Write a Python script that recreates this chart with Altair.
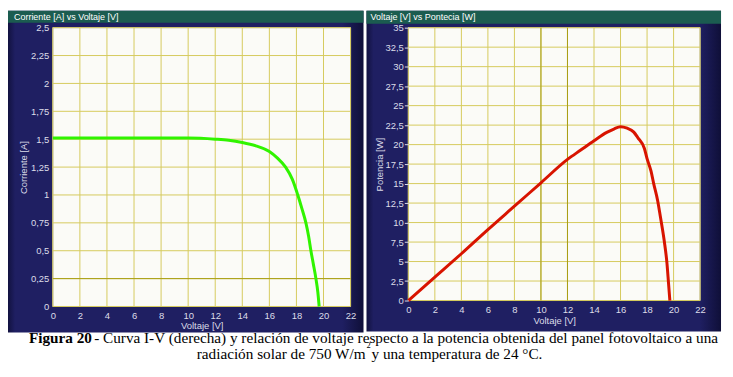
import altair as alt
import pandas as pd

# ---- data ----
iv_v = [0, 2, 4, 6, 8, 10, 12, 13, 14, 15, 16, 16.6, 17.2, 17.7, 18.1, 18.4, 18.7, 18.9, 19.07, 19.25, 19.44, 19.58, 19.68]
iv_i = [1.51, 1.51, 1.51, 1.51, 1.51, 1.51, 1.50, 1.49, 1.47, 1.44, 1.39, 1.33, 1.25, 1.14, 1.00, 0.88, 0.75, 0.63, 0.50, 0.38, 0.25, 0.13, 0.0]

pv_v = [0, 2, 4, 6, 8, 10, 12, 13, 14, 15, 15.5, 16.0, 16.5, 17.0, 17.3, 17.8, 18.0, 18.3, 18.5, 18.8, 19.0, 19.3, 19.5, 19.62, 19.72]
pv_p = [0, 3.0, 6.0, 9.1, 12.1, 15.1, 18.1, 19.3, 20.5, 21.6, 22.0, 22.3, 22.1, 21.6, 20.9, 19.5, 18.2, 16.6, 15.0, 12.8, 10.8, 7.6, 4.8, 2.2, 0.0]

x_ticks = [0, 2, 4, 6, 8, 10, 12, 14, 16, 18, 20, 22]
i_ticks = [0, 0.25, 0.5, 0.75, 1, 1.25, 1.5, 1.75, 2, 2.25, 2.5]
p_ticks = [0, 2.5, 5, 7.5, 10, 12.5, 15, 17.5, 20, 22.5, 25, 27.5, 30, 32.5, 35]
iv_dark_y = [0.25]
pv_dark_x = [10, 12]

title_iv = "Corriente [A] vs Voltaje [V]"
title_pv = "Voltaje [V] vs Pontecia [W]"
x_title = "Voltaje [V]"
y_title_iv = "Corriente [A]"
y_title_pv = "Potencia [W]"

cap_bold = "Figura 20"
cap_line1 = " - Curva I-V (derecha) y relación de voltaje respecto a la potencia obtenida del panel fotovoltaico a una"
cap_line2a = "radiación solar de 750 W/m"
cap_sup = "2"
cap_line2b = " y una temperatura de 24 °C."

# ---- style ----
NAVY_GRAD = alt.LinearGradient(
    gradient="linear", x1=0, x2=1, y1=0, y2=0,
    stops=[alt.GradientStop(color="#121240", offset=0),
           alt.GradientStop(color="#1f1f62", offset=0.02),
           alt.GradientStop(color="#1f1f62", offset=0.94),
           alt.GradientStop(color="#0f0f38", offset=1)],
)
HEADER = "#1b5c50"
GRID = "#d6cb5e"
GRID_DARK = "#a89e14"
LABEL = "#dcdce8"
FONT = "Liberation Sans"
LFS = 9.5

dummy = pd.DataFrame({"a": [0]})
label_expr = "replace('' + datum.value, '.', ',')"


def panel(df, xcol, ycol, color, yticks, ydomain, ytitle, header,
          W, H, fl, fr, fb, hb, hx, dark_x, dark_y, ytick, ypad, xlpad, xtpad):
    xs = alt.Scale(domain=[0, 22], nice=False, zero=False)
    ys = alt.Scale(domain=ydomain, nice=False, zero=False)
    x_axis = alt.Axis(
        values=x_ticks, title=x_title, labelExpr=label_expr, grid=False, domain=False,
        ticks=False, labelFont=FONT, labelFontSize=LFS, labelColor=LABEL, labelPadding=xlpad,
        titleFont=FONT, titleFontSize=9.5, titleFontWeight="normal", titleColor=LABEL,
        titlePadding=xtpad, labelOverlap=False, labelFlush=False, zindex=1)
    y_axis = alt.Axis(
        values=yticks, title=ytitle, labelExpr=label_expr, grid=False, domain=False,
        ticks=ytick > 0, tickSize=max(ytick, 1), tickColor=LABEL,
        labelFont=FONT, labelFontSize=LFS, labelColor=LABEL, labelPadding=4 if ytick == 0 else 1,
        titleFont=FONT, titleFontSize=9.5, titleFontWeight="normal", titleColor=LABEL,
        titlePadding=ypad, labelOverlap=False, labelFlush=False, zindex=1)

    frame = alt.Chart(dummy).mark_rect(fill=NAVY_GRAD, strokeWidth=0).encode(
        x=alt.value(fl), x2=alt.value(W + fr), y=alt.value(-17), y2=alt.value(H + fb))
    head = alt.Chart(dummy).mark_rect(fill=HEADER, strokeWidth=0).encode(
        x=alt.value(fl), x2=alt.value(W + fr), y=alt.value(-17), y2=alt.value(hb))
    htext = alt.Chart(dummy).mark_text(
        align="left", baseline="alphabetic", font=FONT, fontSize=9, color="#ffffff"
    ).encode(x=alt.value(hx), y=alt.value(-8), text=alt.value(header))
    bg = alt.Chart(dummy).mark_rect(fill="#fbfbf7", stroke="#a6a6b4", strokeWidth=1).encode(
        x=alt.value(0), x2=alt.value(W), y=alt.value(0), y2=alt.value(H))
    vgrid = alt.Chart(pd.DataFrame({"V": x_ticks})).mark_rule(color=GRID, strokeWidth=1).encode(
        x=alt.X("V:Q", scale=xs, axis=x_axis), y=alt.value(0), y2=alt.value(H))
    hgrid = alt.Chart(pd.DataFrame({ycol: yticks})).mark_rule(color=GRID, strokeWidth=1).encode(
        y=alt.Y(f"{ycol}:Q", scale=ys, axis=y_axis), x=alt.value(0), x2=alt.value(W))
    layers = [frame, head, htext, bg, vgrid, hgrid]
    if dark_x:
        layers.append(alt.Chart(pd.DataFrame({"V": dark_x})).mark_rule(color=GRID_DARK, strokeWidth=1).encode(
            x=alt.X("V:Q", scale=xs, axis=x_axis), y=alt.value(0), y2=alt.value(H)))
    if dark_y:
        layers.append(alt.Chart(pd.DataFrame({ycol: dark_y})).mark_rule(color=GRID_DARK, strokeWidth=1).encode(
            y=alt.Y(f"{ycol}:Q", scale=ys, axis=y_axis), x=alt.value(0), x2=alt.value(W)))
    curve = alt.Chart(df).mark_line(color=color, strokeWidth=3, interpolate="monotone").encode(
        x=alt.X(f"{xcol}:Q", scale=xs, axis=x_axis),
        y=alt.Y(f"{ycol}:Q", scale=ys, axis=y_axis),
    )
    layers.append(curve)
    return layers, W, H


iv_df = pd.DataFrame({"V": iv_v, "I": iv_i})
pv_df = pd.DataFrame({"V": pv_v, "P": pv_p})

left_layers, LW, LH = panel(iv_df, "V", "I", "#30f400", i_ticks, [0, 2.5], y_title_iv, title_iv,
                            299, 280, -45, 13, 26, -5, -39, None, iv_dark_y, 0, 2, 4, 1)
right_layers, RW, RH = panel(pv_df, "V", "P", "#d81400", p_ticks, [0, 35], y_title_pv, title_pv,
                             293, 274, -42, 21, 31, -4, -38, pv_dark_x, None, 4, 0, 4, 2)

SERIF = "Liberation Serif"
CS = 15.3
caps = [
    alt.Chart(dummy).mark_text(align="left", baseline="alphabetic", font=SERIF, fontSize=CS,
                               fontWeight="bold", color="black").encode(
        x=alt.value(-24), y=alt.value(316.5), text=alt.value(cap_bold)),
    alt.Chart(dummy).mark_text(align="right", baseline="alphabetic", font=SERIF, fontSize=CS,
                               color="black").encode(
        x=alt.value(668), y=alt.value(316.5), text=alt.value(cap_line1)),
    alt.Chart(dummy).mark_text(align="right", baseline="alphabetic", font=SERIF, fontSize=CS,
                               color="black").encode(
        x=alt.value(314), y=alt.value(333), text=alt.value(cap_line2a)),
    alt.Chart(dummy).mark_text(align="left", baseline="alphabetic", font=SERIF, fontSize=8.5,
                               color="black").encode(
        x=alt.value(315), y=alt.value(321.5), text=alt.value(cap_sup)),
    alt.Chart(dummy).mark_text(align="left", baseline="alphabetic", font=SERIF, fontSize=CS,
                               color="black").encode(
        x=alt.value(320), y=alt.value(333), text=alt.value(cap_line2b)),
]

left = alt.layer(*left_layers, *caps).properties(width=LW, height=LH)
right = alt.layer(*right_layers).properties(width=RW, height=RH)

chart = alt.hconcat(left, right, spacing=58, bounds="flush").properties(
    padding={"left": 0, "top": 2, "right": 4, "bottom": 0},
    background="white",
).configure_view(stroke=None)

chart.save("out.html", embed_options={"renderer": "svg", "actions": False})
